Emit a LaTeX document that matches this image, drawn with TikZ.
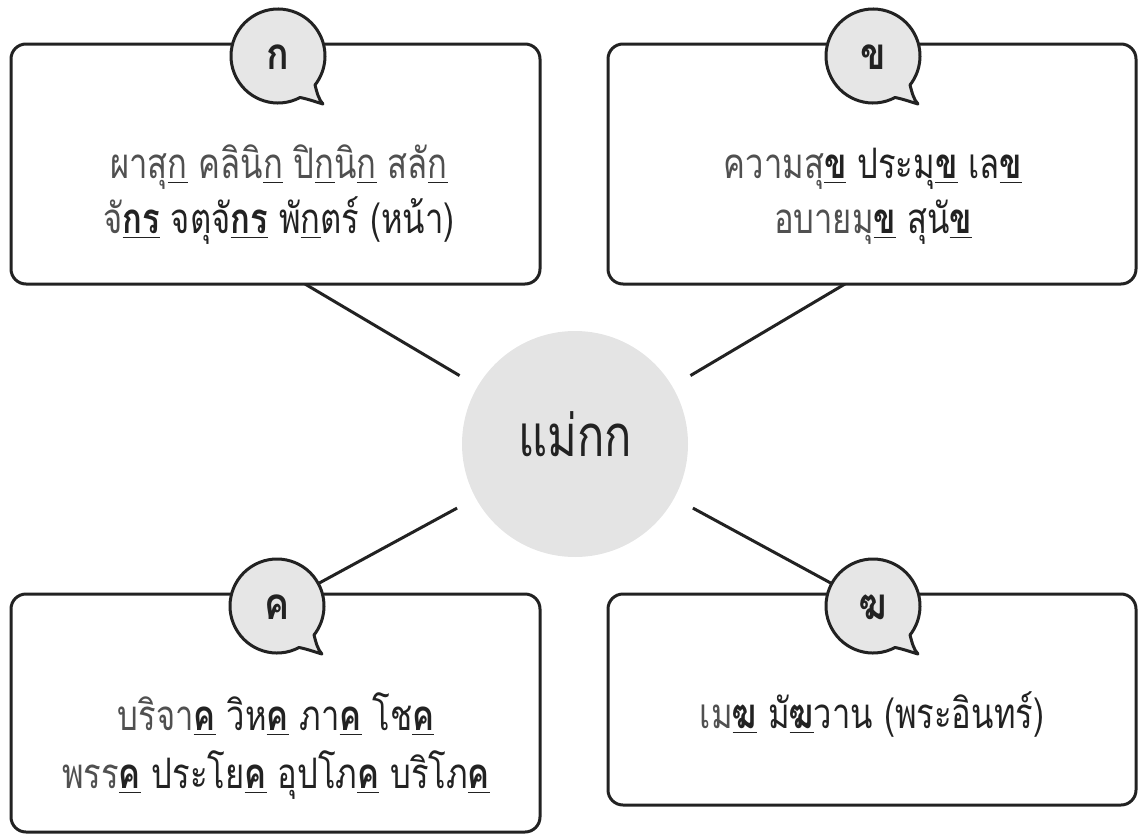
\documentclass[tikz,border=0pt]{standalone}
\usepackage{fontspec}
\newfontfamily\thai[Script=Thai, FakeStretch=0.78]{Loma}
\newfontfamily\thaibub[Script=Thai, FakeStretch=0.85]{Loma}
\usetikzlibrary{calc}
\definecolor{ink}{HTML}{222222}
\definecolor{txt}{HTML}{505050}
\definecolor{bubfill}{HTML}{E6E6E6}
\definecolor{hubfill}{HTML}{E4E4E4}
\tikzset{
  box/.style={draw=ink, line width=3pt, rounded corners=15pt, fill=white, inner sep=0pt},
  conn/.style={draw=ink, line width=3pt},
  hubnode/.style={circle, fill=hubfill, minimum size=226pt, inner sep=0pt},
  hubtext/.style={font=\thai\fontsize{58}{64}\selectfont, text=ink, inner sep=0pt, anchor=base},
  body/.style={font=\thai\fontsize{42}{48}\selectfont, text=txt, inner sep=0pt, anchor=base},
  bubmark/.style={circle, minimum size=94pt, inner sep=0pt},
  bubtext/.style={font=\thaibub\bfseries\fontsize{44}{50}\selectfont, text=ink, inner sep=0pt, anchor=base},
  bubshape/.style={fill=bubfill, draw=ink, line width=3pt, line join=round},
}
\newcommand\ul[1]{\setbox0=\hbox{#1}\rlap{\color{ink}\rule[-4.5pt]{\wd0}{1.4pt}}\box0\relax}
\newcommand\ulb[1]{\ul{\bfseries\color{ink}#1}}
% #1 name, #2 centre, #3 letter
\newcommand\bubble[3]{%
  \begin{scope}[shift={(#2)}]
    \path[bubshape] (22.07,41.5) arc[start angle=62,end angle=398,radius=47]
      .. controls (39,37) and (41,44) .. (45,48)
      .. controls (38,46) and (30,43) .. (22.07,41.5) -- cycle;
    \node[bubmark] (#1) at (0,0) {};
    \node[bubtext] (#1-t) at (0,13) {#3};
  \end{scope}}

\begin{document}
\begin{tikzpicture}[x=1pt,y=-1pt]
\useasboundingbox (0,0) rectangle (1138,835);

% hub
\node[hubnode] (hub) at (575,444) {};
\node[hubtext] (hubt) at (575,456) {แม่กก};

% connector ends
\coordinate (tlc) at (305,284);
\coordinate (trc) at (845,284);
\coordinate (blp) at (277,606);
\coordinate (brp) at (873,606);

\draw[conn, shorten >=21pt] (tlc) -- (hub);
\draw[conn, shorten >=21pt] (trc) -- (hub);
\draw[conn, shorten <=21pt] (hub) -- (blp);
\draw[conn, shorten <=21pt] (hub) -- (brp);

% boxes
\node[box, minimum width=529pt, minimum height=240pt] (tl) at (275.5,164) {};
\node[box, minimum width=528pt, minimum height=240pt] (tr) at (872,164) {};
\node[box, minimum width=529pt, minimum height=238pt] (bl) at (275.5,713) {};
\node[box, minimum width=528pt, minimum height=211pt] (br) at (872,699.5) {};

% bubbles
\bubble{bka}{278,56}{ก}
\bubble{bkh}{873,56}{ข}
\bubble{bkk}{277,606}{ค}
\bubble{bkg}{873,606}{ฆ}

% texts
\node[body] (tl1) at (279,178.5) {ผาสุ\ul{ก} คลินิ\ul{ก} ปิ\ul{ก}นิ\ul{ก} สลั\ul{ก}};
\node[body] (tl2) at (279,233.5) {จั\ulb{กร} จตุจั\ulb{กร} พั\ul{ก}ตร์ (หน้า)};
\node[body] (tr1) at (873,178.5) {ความสุ\ulb{ข} ประมุ\ulb{ข} เล\ulb{ข}};
\node[body] (tr2) at (873,233.5) {อบายมุ\ulb{ข} สุนั\ulb{ข}};
\node[body] (bl1) at (276,730.5) {บริจา\ulb{ค} วิห\ulb{ค} ภา\ulb{ค} โช\ulb{ค}};
\node[body] (bl2) at (276,788.5) {พรร\ulb{ค} ประโย\ulb{ค} อุปโภ\ulb{ค} บริโภ\ulb{ค}};
\node[body] (br1) at (872,728.5) {เม\ulb{ฆ} มั\ulb{ฆ}วาน (พระอินทร์)};
\end{tikzpicture}
\end{document}
